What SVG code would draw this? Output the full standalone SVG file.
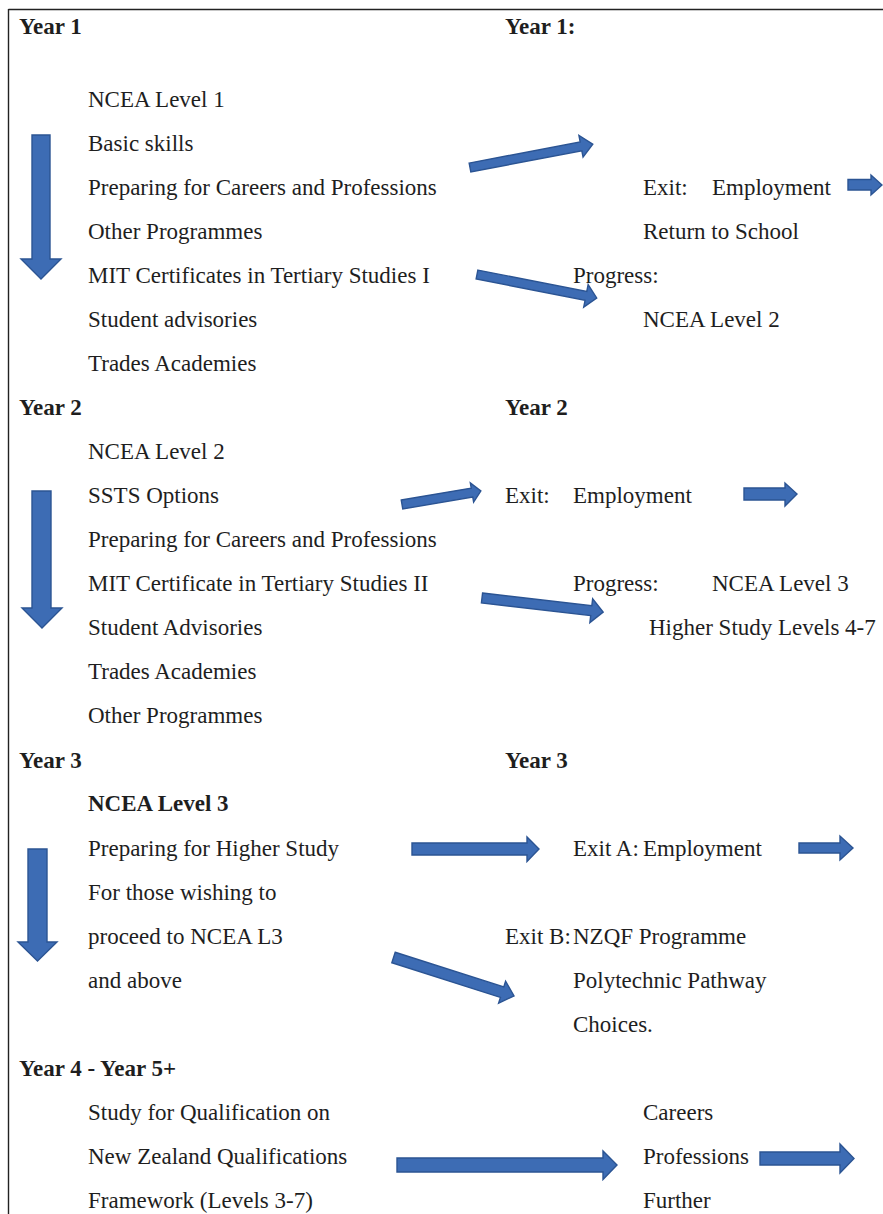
<svg xmlns="http://www.w3.org/2000/svg" width="883" height="1214" viewBox="0 0 883 1214">
  <style>
    .t { font-family: "Liberation Serif", "Times New Roman", serif; font-size: 23px; fill: #1e1e1e; }
    .b { font-weight: bold; }
    .arr { fill: #3d6cb4; stroke: #2b5493; stroke-width: 1.4; stroke-linejoin: miter; }
    .frame { stroke: #222; stroke-width: 1.4; fill: none; }
  </style>

  <!-- page frame (top and left rules) -->
  <g id="frame">
    <path class="frame" d="M8.5,9.5 H883 M8.5,9 V1214"/>
  </g>

  <!-- Year 1 block -->
  <g id="year1-left">
    <text class="t b" x="19" y="33.5">Year 1</text>
    <text class="t" x="88" y="106.5">NCEA Level 1</text>
    <text class="t" x="88" y="150.5">Basic skills</text>
    <text class="t" x="88" y="194.5">Preparing for Careers and Professions</text>
    <text class="t" x="88" y="238.5">Other Programmes</text>
    <text class="t" x="88" y="282.5">MIT Certificates in Tertiary Studies I</text>
    <text class="t" x="88" y="326.5">Student advisories</text>
    <text class="t" x="88" y="370.5">Trades Academies</text>
  </g>
  <g id="year1-right">
    <text class="t b" x="505" y="33.5">Year 1:</text>
    <text class="t" x="643" y="194.5">Exit:</text>
    <text class="t" x="712" y="194.5">Employment</text>
    <text class="t" x="643" y="238.5">Return to School</text>
    <text class="t" x="573" y="282.5">Progress:</text>
    <text class="t" x="643" y="326.5">NCEA Level 2</text>
  </g>

  <!-- Year 2 block -->
  <g id="year2-left">
    <text class="t b" x="19" y="414.5">Year 2</text>
    <text class="t" x="88" y="458.5">NCEA Level 2</text>
    <text class="t" x="88" y="502.5">SSTS Options</text>
    <text class="t" x="88" y="546.5">Preparing for Careers and Professions</text>
    <text class="t" x="88" y="590.5">MIT Certificate in Tertiary Studies II</text>
    <text class="t" x="88" y="634.5">Student Advisories</text>
    <text class="t" x="88" y="678.5">Trades Academies</text>
    <text class="t" x="88" y="722.5">Other Programmes</text>
  </g>
  <g id="year2-right">
    <text class="t b" x="505" y="414.5">Year 2</text>
    <text class="t" x="505" y="502.5">Exit:</text>
    <text class="t" x="573" y="502.5">Employment</text>
    <text class="t" x="573" y="590.5">Progress:</text>
    <text class="t" x="712" y="590.5">NCEA Level 3</text>
    <text class="t" x="649" y="634.5">Higher Study Levels 4-7</text>
  </g>

  <!-- Year 3 block -->
  <g id="year3-left">
    <text class="t b" x="19" y="767.5">Year 3</text>
    <text class="t b" x="88" y="810.5">NCEA Level 3</text>
    <text class="t" x="88" y="855.5">Preparing for Higher Study</text>
    <text class="t" x="88" y="899.5">For those wishing to</text>
    <text class="t" x="88" y="943.5">proceed to NCEA L3</text>
    <text class="t" x="88" y="987.5">and above</text>
  </g>
  <g id="year3-right">
    <text class="t b" x="505" y="767.5">Year 3</text>
    <text class="t" x="573" y="855.5">Exit A:</text>
    <text class="t" x="643" y="855.5">Employment</text>
    <text class="t" x="505" y="943.5">Exit B:</text>
    <text class="t" x="573" y="943.5">NZQF Programme</text>
    <text class="t" x="573" y="987.5">Polytechnic Pathway</text>
    <text class="t" x="573" y="1031.5">Choices.</text>
  </g>

  <!-- Year 4 - Year 5+ block -->
  <g id="year4-left">
    <text class="t b" x="19" y="1075.5">Year 4 - Year 5+</text>
    <text class="t" x="88" y="1119.5">Study for Qualification on</text>
    <text class="t" x="88" y="1163.5">New Zealand Qualifications</text>
    <text class="t" x="88" y="1207.5">Framework (Levels 3-7)</text>
  </g>
  <g id="year4-right">
    <text class="t" x="643" y="1119.5">Careers</text>
    <text class="t" x="643" y="1163.5">Professions</text>
    <text class="t" x="643" y="1207.5">Further</text>
  </g>

  <!-- block arrows -->
  <g id="connectors">
    <!-- downward progression arrows -->
    <polygon class="arr" points="32,135 50,135 50,259 61,259 41,279 21,259 32,259"/>
    <polygon class="arr" points="32,491 51,491 51,608 62,608 42,628 22,608 32,608"/>
    <polygon class="arr" points="28,849 47,849 47,942 57,942 37.5,961 18,942 28,942"/>

    <!-- year 1 arrows -->
    <polygon class="arr" transform="translate(470,167.5) rotate(-10.8)" points="0,-4.5 113,-4.5 113,-11 125,0 113,11 113,4.5 0,4.5"/>
    <polygon class="arr" transform="translate(477,274.5) rotate(11.1)" points="0,-4.5 111,-4.5 111,-11.5 122,0 111,11.5 111,4.5 0,4.5"/>
    <polygon class="arr" points="848,179.5 871,179.5 871,175 882,185 871,195 871,190 848,190"/>

    <!-- year 2 arrows -->
    <polygon class="arr" transform="translate(402,504.5) rotate(-9.7)" points="0,-4.5 71,-4.5 71,-9.7 80,0 71,9.7 71,4.5 0,4.5"/>
    <polygon class="arr" transform="translate(482,598) rotate(6.6)" points="0,-5 110,-5 110,-12 122,0 110,12 110,5 0,5"/>
    <polygon class="arr" points="744,488 785,488 785,483 797,494 785,506 785,500 744,500"/>

    <!-- year 3 arrows -->
    <polygon class="arr" points="412,843 527,843 527,837 539,849 527,861.5 527,855 412,855"/>
    <polygon class="arr" transform="translate(393.5,957.5) rotate(17.7)" points="0,-5.5 114,-5.5 114,-11.5 126.5,0 114,11.5 114,5.5 0,5.5"/>
    <polygon class="arr" points="799,843 840,843 840,836 853,848 840,860 840,853 799,853"/>

    <!-- year 4 arrows -->
    <polygon class="arr" points="397,1158 603,1158 603,1151 617,1165 603,1179.5 603,1172 397,1172"/>
    <polygon class="arr" points="760,1152 840,1152 840,1144 854,1158.5 840,1173 840,1165 760,1165"/>
  </g>
</svg>
